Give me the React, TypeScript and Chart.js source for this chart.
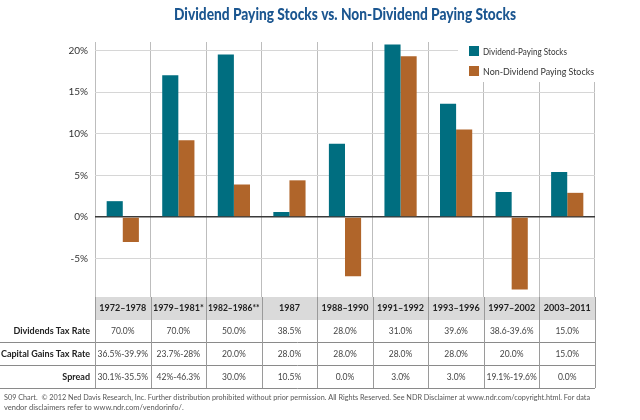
import React, { useEffect, useRef } from "react";
import { Chart, registerables } from "chart.js";

Chart.register(...registerables);

const categories = ["1972–1978", "1979–1981*", "1982–1986**", "1987", "1988–1990", "1991–1992", "1993–1996", "1997–2002", "2003–2011"];
const dividendPaying = [1.9, 17.0, 19.5, 0.6, 8.8, 20.7, 13.6, 3.0, 5.4];
const nonDividendPaying = [-3.0, 9.2, 3.9, 4.4, -7.1, 19.3, 10.5, -8.7, 2.9];
const yTicks = [-5, 0, 5, 10, 15, 20];
const rowLabels = ["Dividends Tax Rate", "Capital Gains Tax Rate", "Spread"];
const dividendsTaxRate = ["70.0%", "70.0%", "50.0%", "38.5%", "28.0%", "31.0%", "39.6%", "38.6-39.6%", "15.0%"];
const capitalGainsTaxRate = ["36.5%-39.9%", "23.7%-28%", "20.0%", "28.0%", "28.0%", "28.0%", "28.0%", "20.0%", "15.0%"];
const spread = ["30.1%-35.5%", "42%-46.3%", "30.0%", "10.5%", "0.0%", "3.0%", "3.0%", "19.1%-19.6%", "0.0%"];
const title = "Dividend Paying Stocks vs. Non-Dividend Paying Stocks";
const footer = [
  "S09 Chart.  © 2012 Ned Davis Research, Inc. Further distribution prohibited without prior permission. All Rights Reserved. See NDR Disclaimer at www.ndr.com/copyright.html. For data",
  "vendor disclaimers refer to www.ndr.com/vendorinfo/.",
];

const TEAL = "#006e80";
const ORANGE = "#b0652a";
const FONT = "Lato, 'Open Sans', sans-serif";

const extrasPlugin = {
  id: "extras",
  afterDraw(chart: any) {
    const ctx = chart.ctx as CanvasRenderingContext2D;
    const x = chart.scales.x;
    const area = chart.chartArea;
    const n = categories.length;
    const colW = (area.right - area.left) / n;
    const tableTop = area.bottom;
    const headerBottom = tableTop + 23;
    const rowH = 23;
    const rowLines = [headerBottom + rowH - 1, headerBottom + 2 * rowH - 1, headerBottom + 3 * rowH - 1];

    ctx.save();
    // Title
    ctx.fillStyle = "#1b5690";
    ctx.font = `900 17px ${FONT}`;
    ctx.textBaseline = "middle";
    const tw = ctx.measureText(title).width;
    const targetW = 342;
    const sx = targetW / tw;
    ctx.save();
    ctx.translate((area.left + area.right) / 2 - targetW / 2, 15);
    ctx.scale(sx, 1);
    ctx.textAlign = "left";
    ctx.fillText(title, 0, 0);
    ctx.restore();

    // Header band
    ctx.fillStyle = "#dadada";
    ctx.fillRect(area.left, tableTop, area.right - area.left, headerBottom - tableTop);

    // Horizontal table lines
    ctx.strokeStyle = "#8a8a8a";
    ctx.lineWidth = 1;
    rowLines.forEach((yy) => {
      ctx.beginPath();
      ctx.moveTo(0, Math.round(yy) + 0.5);
      ctx.lineTo(area.right, Math.round(yy) + 0.5);
      ctx.stroke();
    });

    // Vertical table lines
    ctx.strokeStyle = "#9a9a9a";
    for (let i = 0; i <= n; i++) {
      const cx = i < n ? x.getPixelForValue(i) - colW / 2 : x.getPixelForValue(n - 1) + colW / 2;
      ctx.beginPath();
      ctx.moveTo(Math.round(cx) + 0.5, tableTop);
      ctx.lineTo(Math.round(cx) + 0.5, rowLines[2]);
      ctx.stroke();
    }

    // Header text
    ctx.textAlign = "center";
    ctx.textBaseline = "middle";
    ctx.fillStyle = "#222";
    ctx.font = `bold 9px ${FONT}`;
    categories.forEach((c, i) => {
      ctx.fillText(c, x.getPixelForValue(i), (tableTop + headerBottom) / 2, colW - 4);
    });

    // Row labels and values
    const rows = [dividendsTaxRate, capitalGainsTaxRate, spread];
    rows.forEach((vals, r) => {
      const cy = headerBottom + rowH * r + rowH / 2 - 0.5;
      ctx.textAlign = "right";
      ctx.font = `bold 9px ${FONT}`;
      ctx.fillStyle = "#222";
      ctx.fillText(rowLabels[r], area.left - 5, cy);
      ctx.textAlign = "center";
      ctx.font = `8.5px ${FONT}`;
      ctx.fillStyle = "#444";
      vals.forEach((v, i) => ctx.fillText(v, x.getPixelForValue(i), cy, colW - 4));
    });

    // Legend
    ctx.fillStyle = "#fff";
    ctx.fillRect(458, 40, 142, 42);
    const ds = chart.data.datasets;
    ds.forEach((d: any, i: number) => {
      const by = 46 + i * 20;
      ctx.fillStyle = d.backgroundColor;
      ctx.fillRect(469, by, 10, 10);
      ctx.fillStyle = "#333";
      ctx.font = `10px ${FONT}`;
      ctx.textAlign = "left";
      ctx.textBaseline = "middle";
      ctx.fillText(d.label, 483, by + 5.5, i === 0 ? 84 : 111);
    });

    // Footer
    ctx.fillStyle = "#555";
    ctx.font = `7.5px ${FONT}`;
    ctx.textAlign = "left";
    ctx.fillText(footer[0], 4, 398, 586);
    ctx.fillText(footer[1], 4, 408);
    ctx.restore();
  },
};

export default function App() {
  const ref = useRef<HTMLCanvasElement>(null);
  useEffect(() => {
    if (!ref.current) return;
    const chart = new Chart(ref.current, {
      type: "bar",
      data: {
        labels: categories,
        datasets: [
          { label: "Dividend-Paying Stocks", data: dividendPaying, backgroundColor: TEAL, borderWidth: 0 },
          { label: "Non-Dividend Paying Stocks", data: nonDividendPaying, backgroundColor: ORANGE, borderWidth: 0 },
        ],
      },
      options: {
        responsive: false,
        animation: false,
        devicePixelRatio: 1,
        layout: { padding: { left: 0, right: 45, top: 42, bottom: 123 } },
        plugins: { legend: { display: false }, tooltip: { enabled: false }, title: { display: false } },
        datasets: { bar: { categoryPercentage: 0.58, barPercentage: 1 } },
        scales: {
          x: {
            grid: { offset: true, color: "#bdbdbd", drawTicks: false },
            border: { display: false },
            ticks: { display: false },
            afterFit: (s: any) => { s.height = 0; },
          },
          y: {
            min: -9.6,
            max: 21,
            afterBuildTicks: (s: any) => { s.ticks = yTicks.map((v) => ({ value: v })); },
            ticks: {
              includeBounds: false,
              callback: (v: any) => `${v}%`,
              color: "#333",
              font: { family: FONT, size: 10 },
              padding: 7,
            },
            grid: {
              drawTicks: false,
              color: (c: any) => (c.tick && c.tick.value === 0 ? "#3a3a3a" : "#d6d6d6"),
              lineWidth: (c: any) => (c.tick && c.tick.value === 0 ? 1.5 : 1),
            },
            border: { display: false },
            afterFit: (s: any) => { s.width = 95; },
          },
        },
      },
      plugins: [extrasPlugin],
    });
    return () => chart.destroy();
  }, []);
  return (
    <div style={{ position: "fixed", left: 0, top: 0, width: 640, height: 420, background: "#fff" }}>
      <canvas ref={ref} width={640} height={420} style={{ display: "block" }} />
    </div>
  );
}
